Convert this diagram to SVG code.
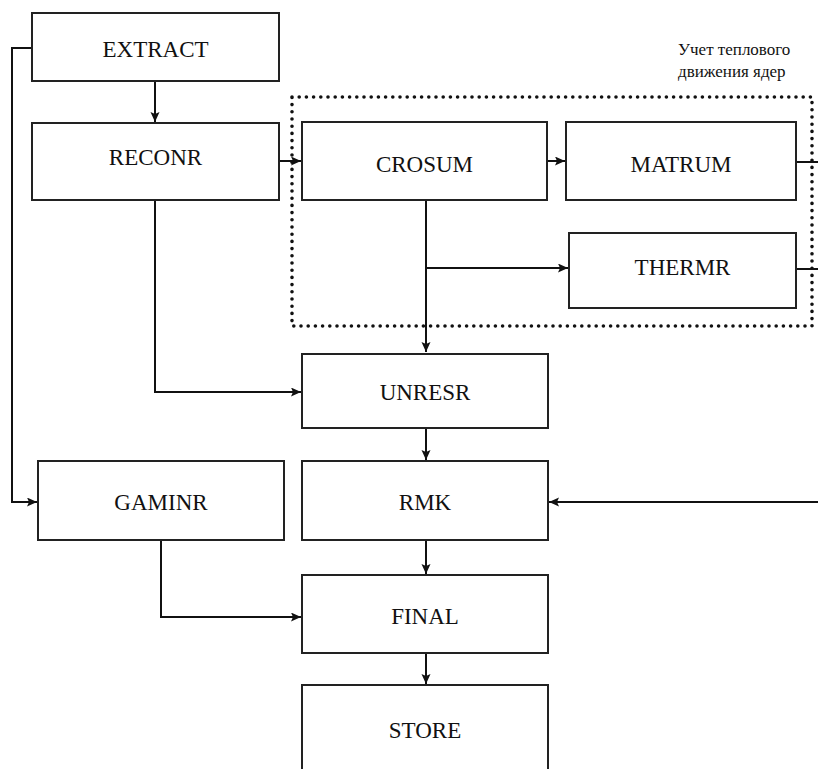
<svg xmlns="http://www.w3.org/2000/svg" width="818" height="769" viewBox="0 0 818 769">
<defs>
<marker id="ah" markerUnits="userSpaceOnUse" markerWidth="11" markerHeight="10" refX="10" refY="4.5" orient="auto">
<path d="M0,0 L10,4.5 L0,9 L2,4.5 z" fill="#111"/>
</marker>
<style>
.box{fill:#fff;stroke:#222;stroke-width:2}
.lbl{font-family:'Liberation Serif','DejaVu Serif',serif;font-size:23px;fill:#111;text-anchor:middle}
.note{font-family:'Liberation Serif','DejaVu Serif',serif;font-size:17px;fill:#111}
.c{fill:none;stroke:#111;stroke-width:2}
.a{marker-end:url(#ah)}
.dot{fill:none;stroke:#111;stroke-width:3.6;stroke-dasharray:0 7.2;stroke-linecap:round}
</style>
</defs>
<rect width="818" height="769" fill="#fff"/>
<g id="thermal-group">
<rect class="dot" x="292" y="97" width="520" height="229"/>
<text class="note" x="678" y="55">Учет теплового</text>
<text class="note" x="678" y="77">движения ядер</text>
</g>
<g id="connectors">
<path class="c a" d="M155,81 V122"/>
<path class="c a" d="M279,161 H301"/>
<path class="c a" d="M547,161 H565"/>
<path class="c a" d="M426,200 V352"/>
<path class="c a" d="M426,268 H568"/>
<path class="c a" d="M155,200 V392 H301"/>
<path class="c a" d="M426,428 V460"/>
<path class="c a" d="M426,540 V574"/>
<path class="c a" d="M426,653 V684"/>
<path class="c a" d="M161,540 V617 H301"/>
<path class="c a" d="M32,48 H12 V502 H37"/>
<path class="c a" d="M818,502 H549"/>
<path class="c" d="M796,162 H818"/>
<path class="c" d="M796,269 H818"/>
</g>
<g id="EXTRACT"><rect class="box" x="32" y="13" width="247" height="68"/><text class="lbl" x="155.5" y="57">EXTRACT</text></g>
<g id="RECONR"><rect class="box" x="32" y="123" width="247" height="77"/><text class="lbl" x="155.5" y="165">RECONR</text></g>
<g id="CROSUM"><rect class="box" x="302" y="122" width="245" height="78"/><text class="lbl" x="424.5" y="172">CROSUM</text></g>
<g id="MATRUM"><rect class="box" x="566" y="122" width="230" height="78"/><text class="lbl" x="681" y="172">MATRUM</text></g>
<g id="THERMR"><rect class="box" x="569" y="233" width="227" height="75"/><text class="lbl" x="682.5" y="275">THERMR</text></g>
<g id="UNRESR"><rect class="box" x="302" y="354" width="246" height="74"/><text class="lbl" x="425" y="400">UNRESR</text></g>
<g id="GAMINR"><rect class="box" x="38" y="461" width="246" height="79"/><text class="lbl" x="161" y="510">GAMINR</text></g>
<g id="RMK"><rect class="box" x="302" y="461" width="246" height="79"/><text class="lbl" x="425" y="510">RMK</text></g>
<g id="FINAL"><rect class="box" x="302" y="575" width="246" height="78"/><text class="lbl" x="425" y="624">FINAL</text></g>
<g id="STORE"><rect class="box" x="302" y="685" width="246" height="100"/><text class="lbl" x="425" y="738">STORE</text></g>
</svg>
